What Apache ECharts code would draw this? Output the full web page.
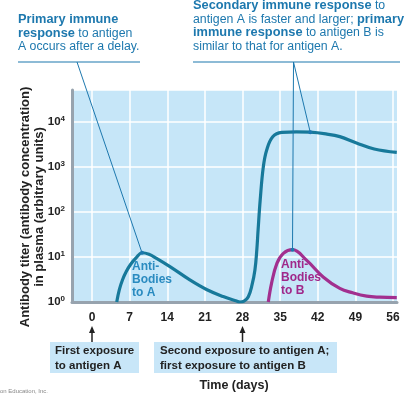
<!DOCTYPE html>
<html><head><meta charset="utf-8">
<script src="https://cdn.jsdelivr.net/npm/echarts@6/dist/echarts.min.js"></script>
<style>html,body{margin:0;padding:0;background:#fff}#c{width:414px;height:394px}</style>
</head><body><div id="c"></div>
<script>
// Antibodies to A (days, titer)
const daysA  = [4.6, 5.1, 5.7, 6.4, 7.2, 8.2, 9.3, 10.6, 12.0, 14.5, 18.2, 21.3, 24.4, 26.9, 27.53, 28.28, 29.08, 29.77, 30.31, 30.66, 30.9, 31.29, 31.87, 32.5, 33.62, 35.29, 38.0, 40.6, 43.5, 46.1, 49.2, 52.5, 56.7];
const titerA = [1, 1.9, 3.16, 4.8, 6.9, 9.5, 12.4, 11.5, 9.3, 6.1, 3.1, 1.9, 1.32, 1.05, 1.0, 1.04, 1.31, 2.39, 5.14, 14.3, 39.8, 184, 1000, 2380, 4690, 5870, 6000, 5900, 5400, 4700, 3400, 2500, 2100];
// Antibodies to B
const daysB  = [32.8, 33.4, 34.4, 35.6, 37.3, 39.9, 43.0, 46.1, 48.5, 51.1, 53.5, 56.7];
const titerB = [1, 2.6, 7.2, 12, 14.5, 8.5, 3.6, 2.0, 1.6, 1.35, 1.28, 1.25];
// Tick labels
const xTicks = [0, 7, 14, 21, 28, 35, 42, 49, 56];
const supDigits = ['0','1','2','3','4'];
// Annotation anchors (indices into the series)
const peakA = 6, plateauA = 27, peakB = 4;

const FONT = '"Liberation Sans", Arial, Helvetica, sans-serif';
const ANN = '#1d78ae';
const chart = echarts.init(document.getElementById('c'));

chart.setOption({
  animation: false,
  grid: { left: 72, right: 17, top: 90, bottom: 92, show: true, backgroundColor: '#c6e6f8', borderWidth: 0 },
  xAxis: {
    type: 'value', min: -3.72, max: 56.74,
    axisLine: { show: true, onZero: false, lineStyle: { color: '#97a3ae', width: 3 } },
    axisTick: { show: false, customValues: xTicks },
    axisLabel: { customValues: xTicks, color: '#222', fontWeight: 'bold', fontSize: 12, fontFamily: FONT, margin: 10 },
    splitLine: { show: true, lineStyle: { color: '#ffffff', width: 1.5 } }
  },
  yAxis: {
    type: 'log', logBase: 10, min: 1, max: 51000,
    axisLine: { show: true, onZero: false, lineStyle: { color: '#97a3ae', width: 3 } },
    axisTick: { show: false },
    splitLine: { show: true, lineStyle: { color: '#ffffff', width: 1.5 } },
    axisLabel: {
      margin: 7,
      formatter: function (v) {
        const e = Math.round(Math.log10(v));
        if (Math.abs(Math.log10(v) - e) > 1e-6 || e < 0 || e > 4) return '';
        return '{a|10}{s|' + supDigits[e] + '}';
      },
      rich: {
        a: { color: '#222', fontWeight: 'bold', fontSize: 11.5, fontFamily: FONT, lineHeight: 14 },
        s: { color: '#222', fontWeight: 'bold', fontSize: 8, fontFamily: FONT, lineHeight: 8, verticalAlign: 'top' }
      }
    }
  },
  series: [
    { type: 'line', data: daysA.map((d, i) => [d, titerA[i]]), showSymbol: false, smooth: 0.4,
      lineStyle: { color: '#17799a', width: 3.2 }, itemStyle: { color: '#17799a' }, z: 3 },
    { type: 'line', data: daysB.map((d, i) => [d, titerB[i]]), showSymbol: false, smooth: 0.4,
      lineStyle: { color: '#a22f8f', width: 3.2 }, itemStyle: { color: '#a22f8f' }, z: 3 }
  ]
});

const px = (p) => chart.convertToPixel({ gridIndex: 0 }, p);
const pPeakA = px([daysA[peakA], titerA[peakA]]);
const pPlatA = px([daysA[plateauA], titerA[plateauA]]);
const pPeakB = px([daysB[peakB], titerB[peakB]]);
const x0 = px([0, 1])[0], x28 = px([28, 1])[0];

function txt(x, y, text, opts) {
  return Object.assign({ type: 'text', x: x, y: y, z: 10, style: Object.assign({ text: text, font: 'bold 12px ' + FONT, fill: '#222', align: 'left', verticalAlign: 'top' }, opts || {}) });
}
const richAnn = {
  b: { fontWeight: 'bold', fontSize: 12.8, fontFamily: FONT, fill: ANN, color: ANN, lineHeight: 13.5 },
  n: { fontWeight: 'normal', fontSize: 12.3, fontFamily: FONT, fill: ANN, color: ANN, lineHeight: 13.5 }
};
function arrow(x) {
  return [
    { type: 'line', z: 10, shape: { x1: x, y1: 342, x2: x, y2: 331 }, style: { stroke: '#222', lineWidth: 1.5 } },
    { type: 'polygon', z: 10, shape: { points: [[x - 3, 333], [x + 3, 333], [x, 326]] }, style: { fill: '#222' } }
  ];
}

const g = [
  // left annotation
  txt(18, 13, '{b|Primary immune}\n{b|response}{n| to antigen}\n{n|A occurs after a delay.}', { rich: richAnn, lineHeight: 13.5, fill: ANN }),
  { type: 'line', z: 10, shape: { x1: 18, y1: 62, x2: 140, y2: 62 }, style: { stroke: ANN, lineWidth: 1.2 } },
  { type: 'line', z: 10, shape: { x1: 77, y1: 62, x2: pPeakA[0], y2: pPeakA[1] }, style: { stroke: ANN, lineWidth: 1 } },
  { type: 'circle', z: 10, shape: { cx: pPeakA[0], cy: pPeakA[1], r: 2 }, style: { fill: ANN } },
  // right annotation
  txt(193, -1, '{b|Secondary immune response}{n| to}\n{n|antigen A is faster and larger; }{b|primary}\n{b|immune response}{n| to antigen B is}\n{n|similar to that for antigen A.}', { rich: richAnn, lineHeight: 13.5, fill: ANN }),
  { type: 'line', z: 10, shape: { x1: 193, y1: 62, x2: 400, y2: 62 }, style: { stroke: ANN, lineWidth: 1.2 } },
  { type: 'line', z: 10, shape: { x1: 293.5, y1: 62, x2: pPeakB[0], y2: pPeakB[1] }, style: { stroke: ANN, lineWidth: 1 } },
  { type: 'line', z: 10, shape: { x1: 293.5, y1: 62, x2: pPlatA[0], y2: pPlatA[1] }, style: { stroke: ANN, lineWidth: 1 } },
  { type: 'circle', z: 10, shape: { cx: pPlatA[0], cy: pPlatA[1], r: 2 }, style: { fill: ANN } },
  { type: 'circle', z: 10, shape: { cx: pPeakB[0], cy: pPeakB[1], r: 2 }, style: { fill: ANN } },
  // curve labels
  txt(132, 260, 'Anti-\nBodies\nto A', { fill: '#2a8bc0', lineHeight: 13 }),
  txt(281, 258, 'Anti-\nBodies\nto B', { fill: '#a0288a', lineHeight: 13 }),
  // boxes
  { type: 'rect', z: 9, shape: { x: 50, y: 342, width: 89, height: 31 }, style: { fill: '#c8e6f8' } },
  { type: 'rect', z: 9, shape: { x: 154, y: 342, width: 183, height: 31 }, style: { fill: '#c8e6f8' } },
  txt(55, 344, 'First exposure\nto antigen A', { font: 'bold 11.5px ' + FONT, lineHeight: 14.5 }),
  txt(160, 344, 'Second exposure to antigen A;\nfirst exposure to antigen B', { font: 'bold 11.5px ' + FONT, lineHeight: 14.5 }),
  ...arrow(x0), ...arrow(x28),
  txt(234, 386, 'Time (days)', { font: 'bold 12.5px ' + FONT, align: 'center', verticalAlign: 'middle' }),
  // y axis title
  { type: 'text', z: 10, x: 25, y: 207, rotation: Math.PI / 2,
    style: { text: 'Antibody titer (antibody concentration)', font: 'bold 13px ' + FONT, fill: '#222', align: 'center', verticalAlign: 'middle' } },
  { type: 'text', z: 10, x: 39, y: 207, rotation: Math.PI / 2,
    style: { text: 'in plasma (arbitrary units)', font: 'bold 13px ' + FONT, fill: '#222', align: 'center', verticalAlign: 'middle' } },
  txt(48, 391, '\u00a9 Pearson Education, Inc.', { font: '6px ' + FONT, fill: '#888', align: 'right', verticalAlign: 'middle' })
];
chart.setOption({ graphic: g });
</script>
</body></html>
